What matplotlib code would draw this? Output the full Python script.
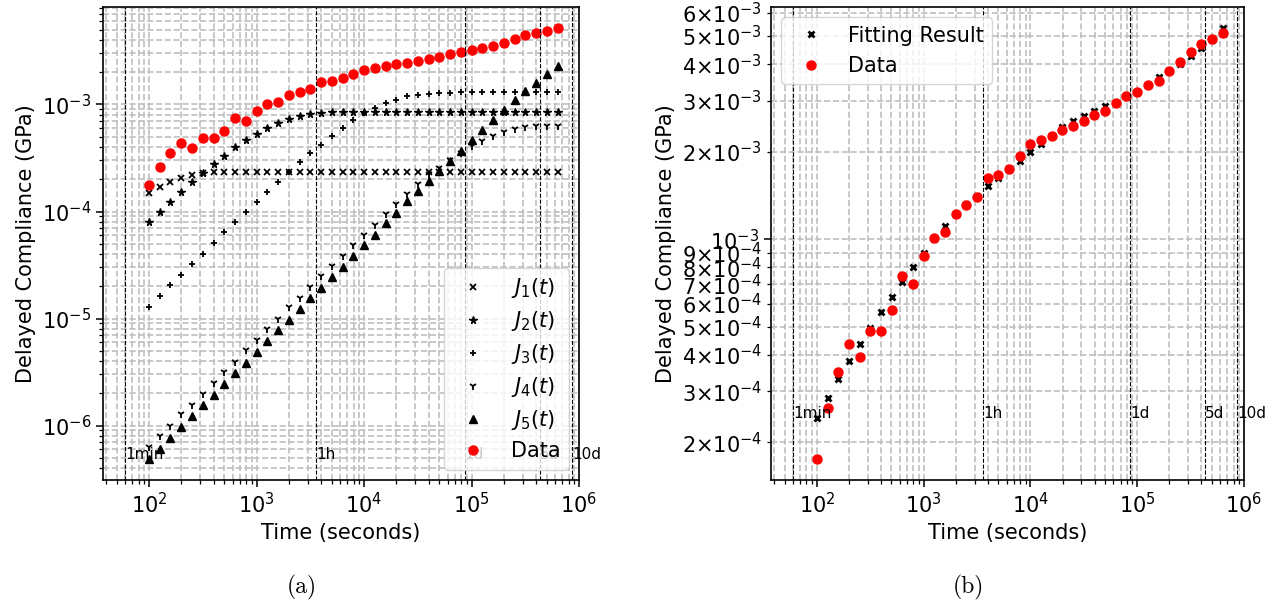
import matplotlib
matplotlib.use("Agg")
import matplotlib.pyplot as plt
from matplotlib.ticker import FuncFormatter
import numpy as np

# time points (seconds)
t = [100, 126, 158, 200, 251, 316, 398, 501, 631, 794,
     1000, 1259, 1585, 1995, 2512, 3162, 3981, 5012, 6310, 7943,
     10000, 12589, 15849, 19953, 25119, 31623, 39811, 50119, 63096, 79433,
     100000, 125893, 158489, 199526, 251189, 316228, 398107, 501187, 630957]

# measured delayed compliance (GPa)
data = [1.76e-4, 2.62e-4, 3.50e-4, 4.37e-4, 3.93e-4, 4.82e-4, 4.82e-4, 5.69e-4, 7.46e-4, 6.99e-4,
        8.78e-4, 1.006e-3, 1.055e-3, 1.22e-3, 1.31e-3, 1.40e-3, 1.62e-3, 1.67e-3, 1.75e-3, 1.94e-3,
        2.12e-3, 2.20e-3, 2.27e-3, 2.38e-3, 2.46e-3, 2.55e-3, 2.68e-3, 2.76e-3, 2.95e-3, 3.11e-3,
        3.21e-3, 3.39e-3, 3.51e-3, 3.79e-3, 4.08e-3, 4.42e-3, 4.70e-3, 4.89e-3, 5.13e-3]

# fitted total compliance
fit = [2.42e-4, 2.84e-4, 3.31e-4, 3.82e-4, 4.36e-4, 4.96e-4, 5.61e-4, 6.31e-4, 7.11e-4, 8.01e-4,
       9.00e-4, 1.003e-3, 1.11e-3, 1.22e-3, 1.32e-3, 1.41e-3, 1.53e-3, 1.63e-3, 1.75e-3, 1.86e-3,
       2.00e-3, 2.13e-3, 2.27e-3, 2.43e-3, 2.55e-3, 2.66e-3, 2.77e-3, 2.88e-3, 2.95e-3, 3.12e-3,
       3.22e-3, 3.39e-3, 3.61e-3, 3.79e-3, 4.02e-3, 4.27e-3, 4.55e-3, 4.85e-3, 5.31e-3]

# individual terms
j1 = [1.49e-4, 1.71e-4, 1.90e-4, 2.04e-4, 2.21e-4, 2.31e-4, 2.34e-4, 2.35e-4, 2.36e-4, 2.36e-4,
      2.36e-4, 2.36e-4, 2.36e-4, 2.36e-4, 2.36e-4, 2.36e-4, 2.36e-4, 2.36e-4, 2.36e-4, 2.36e-4,
      2.36e-4, 2.36e-4, 2.36e-4, 2.36e-4, 2.36e-4, 2.36e-4, 2.36e-4, 2.36e-4, 2.36e-4, 2.36e-4,
      2.36e-4, 2.36e-4, 2.36e-4, 2.36e-4, 2.36e-4, 2.36e-4, 2.36e-4, 2.36e-4, 2.36e-4]
j2 = [8.0e-5, 1.0e-4, 1.23e-4, 1.51e-4, 1.87e-4, 2.29e-4, 2.78e-4, 3.33e-4, 3.98e-4, 4.63e-4,
      5.35e-4, 6.0e-4, 6.68e-4, 7.34e-4, 7.83e-4, 8.18e-4, 8.36e-4, 8.44e-4, 8.47e-4, 8.48e-4,
      8.48e-4, 8.48e-4, 8.48e-4, 8.48e-4, 8.48e-4, 8.48e-4, 8.48e-4, 8.48e-4, 8.48e-4, 8.48e-4,
      8.48e-4, 8.48e-4, 8.48e-4, 8.48e-4, 8.48e-4, 8.48e-4, 8.48e-4, 8.48e-4, 8.48e-4]
j3 = [1.29e-5, 1.63e-5, 2.05e-5, 2.56e-5, 3.22e-5, 4.05e-5, 5.03e-5, 6.37e-5, 7.97e-5, 9.96e-5,
      1.24e-4, 1.53e-4, 1.90e-4, 2.35e-4, 2.88e-4, 3.53e-4, 4.22e-4, 5.13e-4, 6.0e-4, 7.19e-4,
      8.3e-4, 9.3e-4, 1.03e-3, 1.11e-3, 1.20e-3, 1.23e-3, 1.26e-3, 1.28e-3, 1.29e-3, 1.30e-3,
      1.30e-3, 1.30e-3, 1.30e-3, 1.30e-3, 1.30e-3, 1.30e-3, 1.30e-3, 1.30e-3, 1.30e-3]
j4 = [6.28e-7, 7.96e-7, 1.0e-6, 1.27e-6, 1.57e-6, 1.98e-6, 2.51e-6, 3.16e-6, 3.95e-6, 5.05e-6,
      6.26e-6, 7.94e-6, 9.98e-6, 1.27e-5, 1.57e-5, 1.98e-5, 2.51e-5, 3.11e-5, 3.86e-5, 4.86e-5,
      6.03e-5, 7.52e-5, 9.48e-5, 1.17e-4, 1.46e-4, 1.81e-4, 2.24e-4, 2.55e-4, 3.0e-4, 3.5e-4,
      4.05e-4, 4.58e-4, 5.05e-4, 5.5e-4, 5.85e-4, 6.1e-4, 6.25e-4, 6.33e-4, 6.36e-4]
j5 = [4.92e-7, 6.1e-7, 7.67e-7, 9.73e-7, 1.22e-6, 1.54e-6, 1.94e-6, 2.44e-6, 3.08e-6, 3.86e-6,
      4.9e-6, 6.17e-6, 7.76e-6, 9.7e-6, 1.22e-5, 1.54e-5, 1.94e-5, 2.45e-5, 3.06e-5, 3.86e-5,
      4.86e-5, 6.07e-5, 7.75e-5, 9.68e-5, 1.26e-4, 1.57e-4, 1.93e-4, 2.41e-4, 2.99e-4, 3.66e-4,
      4.61e-4, 5.80e-4, 7.19e-4, 8.79e-4, 1.09e-3, 1.33e-3, 1.60e-3, 1.94e-3, 2.27e-3]

# reference times marked with vertical lines
mark_t = [60, 3600, 86400, 432000, 864000]
mark_lab = ["1min", "1h", "1d", "5d", "10d"]

fs = 15

fig = plt.figure(figsize=(12.79, 6.08), dpi=100)
ax1 = fig.add_axes([0.0805, 0.2105, 0.3722, 0.778])
ax2 = fig.add_axes([0.6028, 0.2105, 0.3698, 0.778])


def style_axes(ax):
    ax.set_xscale("log")
    ax.set_yscale("log")
    ax.grid(True, which="both", ls="--", color="0.75", lw=1.2)
    ax.set_axisbelow(True)
    ax.tick_params(which="both", labelsize=fs)
    ax.tick_params(which="major", length=5, width=1.1)
    ax.tick_params(which="minor", length=3, width=0.9)
    for sp in ax.spines.values():
        sp.set_linewidth(1.2)
    ax.set_xlabel("Time (seconds)", fontsize=fs)
    ax.set_ylabel("Delayed Compliance (GPa)", fontsize=fs)


def minor_label(v, pos):
    # label minor ticks like 2x10^-4 (tight multiplication sign)
    e = int(np.floor(np.log10(v) + 1e-9))
    m = int(round(v / 10.0 ** e))
    return r"$\mathdefault{%d{\times}10^{%d}}$" % (m, e)


# (a) individual terms
style_axes(ax1)
ax1.plot(t, j1, "kx", ms=4, mew=1.3, label=r"$J_1(t)$")
ax1.plot(t, j2, "k*", ms=5.5, label=r"$J_2(t)$")
ax1.plot(t, j3, "k+", ms=5, mew=1.3, label=r"$J_3(t)$")
ax1.plot(t, j4, "k1", ms=5.5, mew=1.3, label=r"$J_4(t)$")
ax1.plot(t, j5, "k^", ms=6, label=r"$J_5(t)$")
ax1.plot(t, data, "o", color="red", ms=6.5, label="Data")
ax1.set_xlim(37.2, 1e6)
for x, s in zip(mark_t, mark_lab):
    ax1.axvline(x, color="k", ls="--", lw=0.8)
    ax1.text(x, j5[0], s, fontsize=11)
ax1.legend(loc="lower right", fontsize=fs, labelspacing=0.43)

# (b) fitting result
style_axes(ax2)
ax2.plot(t, fit, "kx", ms=5, mew=2, label="Fitting Result")
ax2.plot(t, data, "o", color="red", ms=6.5, label="Data")
ax2.set_xlim(37.2, 1e6)
for x, s in zip(mark_t, mark_lab):
    ax2.axvline(x, color="k", ls="--", lw=0.8)
    ax2.text(x, fit[0], s, fontsize=11)
ax2.yaxis.set_minor_formatter(FuncFormatter(minor_label))
ax2.legend(loc="upper left", fontsize=fs)

# captions
fig.text(302 / 1279, 1 - 587 / 608, "(a)", family="cmr10", fontsize=17, ha="center", va="center")
fig.text(968 / 1279, 1 - 587 / 608, "(b)", family="cmr10", fontsize=17, ha="center", va="center")

fig.savefig("out.png", dpi=100)
